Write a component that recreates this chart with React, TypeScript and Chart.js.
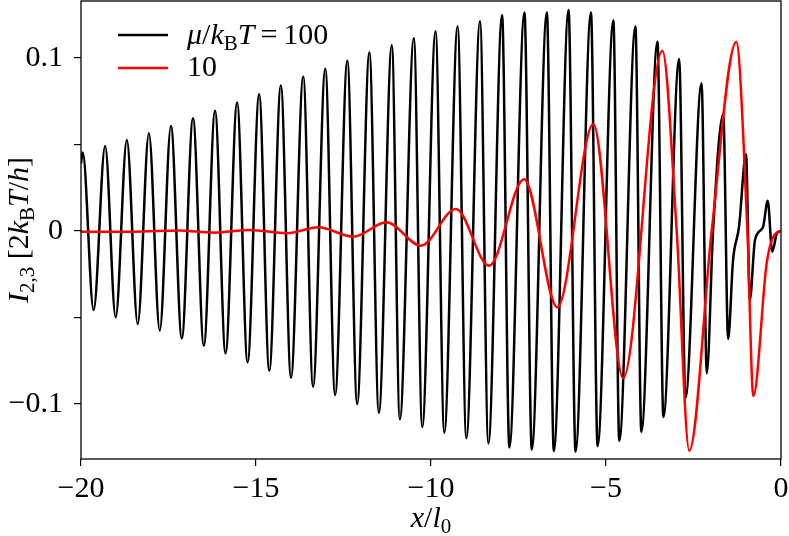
import React, { useEffect, useRef } from 'react';
import { Chart, registerables } from 'chart.js';

Chart.register(...registerables);

// ---- black series (mu/kBT = 100): maxima, minima and a few extra readings ----
const blackPeakX = [-19.95, -19.31, -18.69, -18.06, -17.43, -16.8, -16.17, -15.54, -14.91, -14.29, -13.65, -13.02, -12.39, -11.76, -11.12, -10.49, -9.87, -9.24, -8.6, -7.97, -7.33, -6.69, -6.07, -5.43, -4.79, -4.16, -3.53, -2.91, -2.27, -1.65, -1.0, -0.38];
const blackPeakY = [0.0453, 0.0491, 0.0526, 0.0565, 0.0607, 0.0651, 0.0695, 0.0742, 0.079, 0.084, 0.0892, 0.0938, 0.0984, 0.1031, 0.1073, 0.1114, 0.1154, 0.1183, 0.1212, 0.1247, 0.1262, 0.1262, 0.1277, 0.1262, 0.1216, 0.1181, 0.1094, 0.0994, 0.0854, 0.0676, 0.0443, 0.0175];
const blackTroughX = [-19.64, -19.01, -18.38, -17.75, -17.12, -16.49, -15.87, -15.24, -14.62, -14.0, -13.37, -12.74, -12.11, -11.49, -10.89, -10.25, -9.62, -8.99, -8.36, -7.76, -7.12, -6.49, -5.87, -5.24, -4.62, -3.99, -3.36, -2.73, -2.12, -1.51, -0.89, -0.25];
const blackTroughY = [-0.0457, -0.0499, -0.0538, -0.0576, -0.062, -0.0663, -0.0707, -0.0759, -0.0808, -0.0848, -0.09, -0.0948, -0.1, -0.105, -0.1088, -0.1133, -0.1166, -0.1197, -0.1228, -0.1251, -0.1263, -0.1272, -0.1275, -0.1243, -0.1212, -0.116, -0.1075, -0.0965, -0.0823, -0.0624, -0.0399, -0.012];
const blackExtraX = [-20, -1.94, -1.37, -1.2, -0.743, -0.514, -0.114, 0];
const blackExtraY = [0.039, 0.0006, -0.0168, 0.0023, -0.0052, 0.0023, -0.0012, 0];

// ---- red series (mu/kBT = 10) ----
const redX = [-20, -18.5, -17.2, -16.2, -15.17, -14.12, -13.22, -12.22, -11.27, -10.29, -9.29, -8.34, -7.34, -6.39, -5.36, -4.51, -3.39, -2.98, -2.62, -1.98, -1.28, -0.96, -0.79, -0.41, -0.22, 0];
const redY = [-0.0004, -0.0004, 0.0003, -0.001, 0.0006, -0.0013, 0.0021, -0.0033, 0.005, -0.0085, 0.0127, -0.0201, 0.0299, -0.0441, 0.0618, -0.0851, 0.1042, 0, -0.127, 0, 0.1092, 0, -0.0954, -0.0187, -0.0033, 0];

// ---- ticks ----
const xTickValues = [-20, -15, -10, -5, 0];
const xTickLabels = ['\u221220', '\u221215', '\u221210', '\u22125', '0'];
const yTickValues = [-0.1, -0.05, 0, 0.05, 0.1];
const yTickLabels = ['\u22120.1', '', '0', '', '0.1'];

const FAM = '"Liberation Serif", serif';
const FS = 30;

type Seg = { t: string; it?: boolean; sub?: boolean };

function drawRich(ctx: CanvasRenderingContext2D, segs: Seg[], x: number, y: number, size: number, align: 'left' | 'center', color: string) {
  const fontOf = (s: Seg) => `${s.it ? 'italic ' : ''}${s.sub ? Math.round(size * 0.7) : size}px ${FAM}`;
  const widths = segs.map((s) => { ctx.font = fontOf(s); return ctx.measureText(s.t).width; });
  const total = widths.reduce((a, b) => a + b, 0);
  let cx = align === 'center' ? x - total / 2 : x;
  ctx.fillStyle = color;
  ctx.textBaseline = 'alphabetic';
  ctx.textAlign = 'left';
  segs.forEach((s, i) => {
    ctx.font = fontOf(s);
    ctx.fillText(s.t, cx, y + (s.sub ? size * 0.2 : 0));
    cx += widths[i];
  });
}

function pts(xs: number[], ys: number[]) {
  return xs.map((x, i) => ({ x, y: ys[i] }));
}

export default function App() {
  const ref = useRef<HTMLCanvasElement | null>(null);
  useEffect(() => {
    if (!ref.current) return;
    const blackData = [
      ...pts(blackPeakX, blackPeakY),
      ...pts(blackTroughX, blackTroughY),
      ...pts(blackExtraX, blackExtraY),
    ].sort((a, b) => a.x - b.x);
    const redData = pts(redX, redY);

    const decor = {
      id: 'decor',
      afterDraw(chart: any) {
        const ctx = chart.ctx as CanvasRenderingContext2D;
        const a = chart.chartArea;
        ctx.save();
        ctx.strokeStyle = '#000';
        ctx.lineWidth = 1.3;
        ctx.strokeRect(a.left, a.top, a.right - a.left, a.bottom - a.top);
        // legend
        ctx.lineWidth = 2.6;
        ctx.strokeStyle = '#000';
        ctx.beginPath(); ctx.moveTo(118, 35); ctx.lineTo(168, 35); ctx.stroke();
        ctx.strokeStyle = '#ff0000';
        ctx.beginPath(); ctx.moveTo(118, 68); ctx.lineTo(168, 68); ctx.stroke();
        drawRich(ctx, [
          { t: '\u03bc', it: true }, { t: '/' }, { t: 'k', it: true }, { t: 'B', sub: true }, { t: 'T', it: true }, { t: '\u2009=\u2009100' },
        ], 187, 44, FS, 'left', '#000');
        drawRich(ctx, [{ t: '10' }], 187, 76, FS, 'left', '#000');
        // x label
        drawRich(ctx, [{ t: 'x', it: true }, { t: '/' }, { t: 'l', it: true }, { t: '0', sub: true }], 431, 527, FS, 'center', '#000');
        // y label
        ctx.translate(28, 230);
        ctx.rotate(-Math.PI / 2);
        drawRich(ctx, [
          { t: 'I', it: true }, { t: '2,3', sub: true }, { t: ' [2' }, { t: 'k', it: true }, { t: 'B', sub: true },
          { t: 'T', it: true }, { t: '/' }, { t: 'h', it: true }, { t: ']' },
        ], 0, 0, FS, 'center', '#000');
        ctx.restore();
      },
    };

    const chart = new Chart(ref.current, {
      type: 'line',
      data: {
        datasets: [
          { label: '10', data: redData, borderColor: '#ff0000', borderWidth: 2.5, pointRadius: 0, cubicInterpolationMode: 'monotone', fill: false, order: 0 },
          { label: '100', data: blackData, borderColor: '#000000', borderWidth: 2.5, pointRadius: 0, cubicInterpolationMode: 'monotone', fill: false, order: 1 },
        ],
      } as any,
      options: {
        animation: false,
        responsive: false,
        devicePixelRatio: 1,
        parsing: false as any,
        normalized: true,
        layout: { padding: { top: 1, right: 8, left: 0, bottom: 0 } },
        plugins: { legend: { display: false }, tooltip: { enabled: false } },
        scales: {
          x: {
            type: 'linear',
            min: -20,
            max: 0,
            afterFit: (s: any) => { s.height = 77; s.paddingLeft = 0; s.paddingRight = 0; },
            afterBuildTicks: (s: any) => { s.ticks = xTickValues.map((v) => ({ value: v })); },
            ticks: {
              autoSkip: false,
              maxRotation: 0,
              padding: 5,
              color: '#000',
              font: { family: FAM, size: FS },
              callback: (v: any) => xTickLabels[xTickValues.indexOf(Number(v))] ?? '',
            },
            grid: { drawOnChartArea: false, tickLength: 7, color: '#000', lineWidth: 1.2 },
            border: { display: false },
          },
          y: {
            type: 'linear',
            min: -0.1318,
            max: 0.1329,
            afterFit: (s: any) => { s.width = 81; s.paddingTop = 0; s.paddingBottom = 0; },
            afterBuildTicks: (s: any) => { s.ticks = yTickValues.map((v) => ({ value: v })); },
            ticks: {
              autoSkip: false,
              padding: 11,
              color: '#000',
              font: { family: FAM, size: FS },
              callback: (v: any) => {
                const i = yTickValues.findIndex((t) => Math.abs(t - Number(v)) < 1e-9);
                return i >= 0 ? yTickLabels[i] : '';
              },
            },
            grid: { drawOnChartArea: false, tickLength: 7, color: '#000', lineWidth: 1.2 },
            border: { display: false },
          },
        },
      } as any,
      plugins: [decor],
    });
    return () => chart.destroy();
  }, []);

  return (
    <div style={{ position: 'absolute', left: 0, top: 0, width: 789, height: 536, background: '#fff' }}>
      <canvas ref={ref} width={789} height={536} style={{ display: 'block', width: 789, height: 536 }} />
    </div>
  );
}
